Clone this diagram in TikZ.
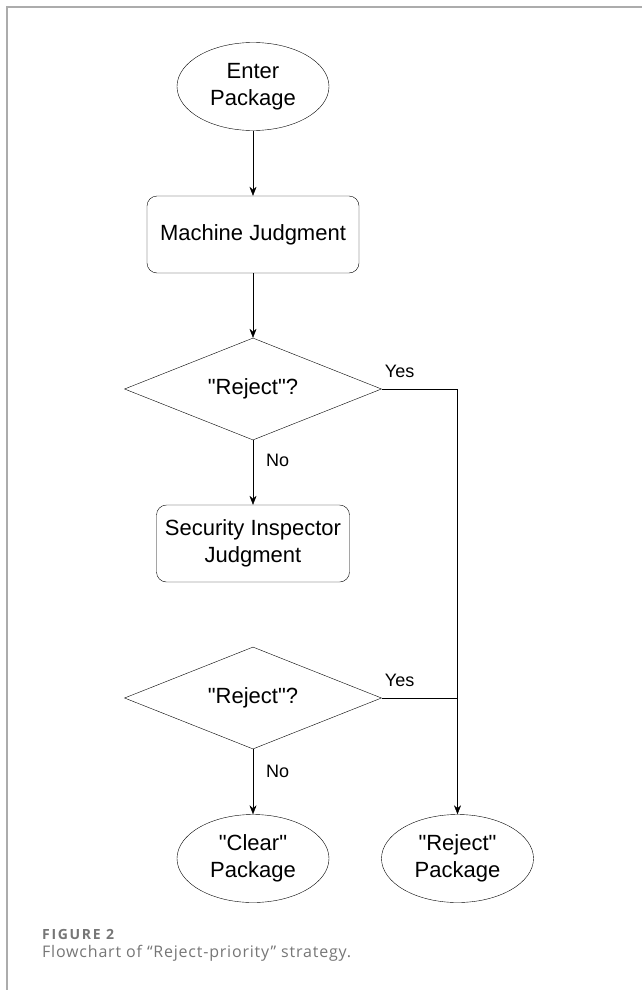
\documentclass[tikz,border=0pt]{standalone}
\usepackage{fontspec}
\setmainfont{Liberation Sans}[Ligatures=TeXOff]
\newfontfamily\captionfont{Open Sans}[LetterSpace=5]
\newfontfamily\fignumfont{Open Sans}[LetterSpace=12]
\usetikzlibrary{shapes.geometric, positioning, arrows.meta}
\definecolor{framegray}{RGB}{172,172,172}
\definecolor{capgray}{RGB}{118,118,118}
\tikzset{
	x=1pt, y=1pt,
	>={Stealth[length=9pt, width=7pt]}, % arrow heads
	line width=1.3pt,
	node distance=154.5pt, % centre to centre (below of)
	terminal/.style={draw, ellipse, minimum width=152pt, minimum height=88pt, inner sep=0pt, align=center, font={\fontsize{22}{27}\selectfont}},
	process/.style={draw, rounded corners=10pt, minimum height=77pt, inner sep=0pt, align=center, font={\fontsize{22}{27}\selectfont}},
	decision/.style={draw, diamond, aspect=2.5, minimum width=257pt, minimum height=102pt, inner sep=0pt, font={\fontsize{22}{27}\selectfont}},
	answer/.style={inner sep=0pt, font={\fontsize{18}{20}\selectfont}},
}
\begin{document}
\begin{tikzpicture}
	\useasboundingbox (0,0) rectangle (642,-990);
	\draw[framegray, line width=1.5pt] (7,-990) -- (7,-7) -- (642,-7);

	\node[terminal] (enter) at (253,-86.5) {Enter\\Package};
	\node[process, minimum width=212pt] (machine) [below of=enter, node distance=148pt] {Machine Judgment};
	\node[decision] (check1) [below of=machine] {"Reject"?};
	\node[process, minimum width=193pt] (inspector) [below of=check1] {Security Inspector\\Judgment};
	\node[decision] (check2) [below of=inspector] {"Reject"?};
	\node[terminal] (clear) [below of=check2, node distance=160.5pt] {"Clear"\\Package};
	\node[terminal] (reject) [right of=clear, node distance=204.5pt] {"Reject"\\Package};

	\draw[->] (enter) -- (machine);
	\draw[->] (machine) -- (check1);
	\draw[->] (check1) -- node[answer, pos=0.32, right=13pt] (no1) {No} (inspector);
	\draw[->] (check1.east) node[answer, anchor=south west, xshift=3pt, yshift=11pt] (yes1) {Yes} -| (reject);
	\draw (check2.east) node[answer, anchor=south west, xshift=3pt, yshift=11pt] (yes2) {Yes} -- (check2.east -| reject);
	\draw[->] (check2) -- node[answer, pos=0.34, right=13pt] (no2) {No} (clear);

	\node[anchor=base west, inner sep=0pt, text=capgray, font={\fignumfont\bfseries\fontsize{14}{16}\selectfont}] (fignum) at (42,-939) {FIGURE 2};
	\node[anchor=base west, inner sep=0pt, text=capgray, font={\captionfont\fontsize{16}{18}\selectfont}] (caption) at (42,-957) {Flowchart of “Reject-priority” strategy.};
\end{tikzpicture}
\end{document}
